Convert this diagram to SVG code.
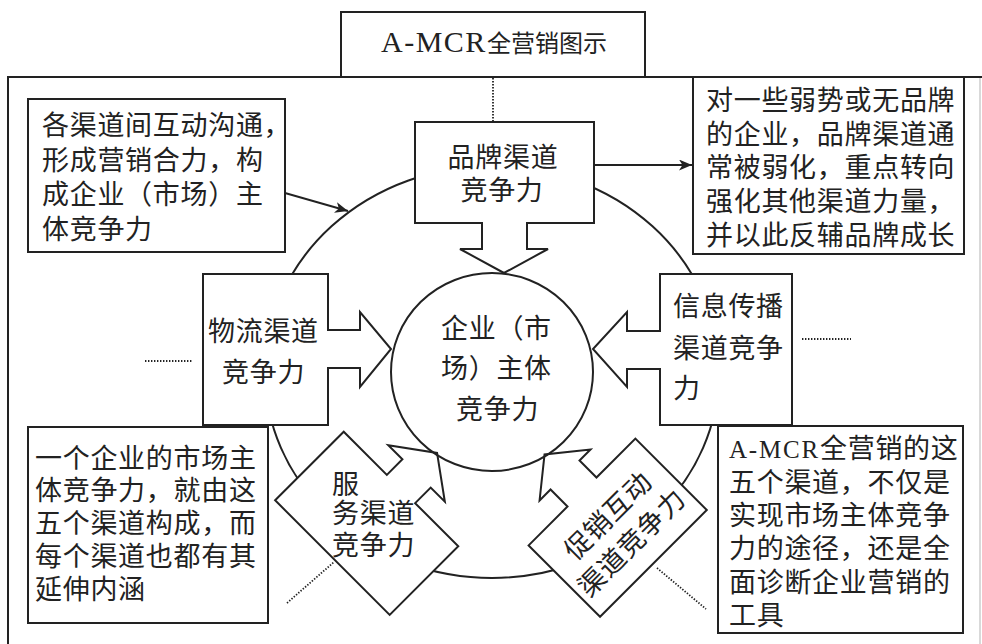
<svg xmlns="http://www.w3.org/2000/svg" width="982" height="644" viewBox="0 0 982 644">
<defs>
<style>
.ln{fill:none;stroke:#222;stroke-width:2}
.box{fill:#fff;stroke:#222;stroke-width:2;stroke-linejoin:miter}
.dot{fill:none;stroke:#222;stroke-width:1.8;stroke-dasharray:1.4 1.6}
.t{font-family:"Noto Sans CJK SC",sans-serif;font-size:27px;fill:#222;letter-spacing:0.7px}
.lat{font-family:"Liberation Serif","Noto Sans CJK SC",serif}
</style>
<marker id="ah" markerUnits="userSpaceOnUse" markerWidth="14" markerHeight="12" refX="13" refY="5.5" orient="auto">
<path d="M0,0 L13,5.5 L0,11 L3.5,5.5 z" fill="#222"/>
</marker>
</defs>
<rect width="982" height="644" fill="#fff"/>

<g id="frame">
<path class="ln" d="M8,644 V77 H982"/>
<line x1="980" y1="78" x2="980" y2="644" stroke="#ccc" stroke-width="1.5"/>
</g>

<g id="title">
<rect class="box" x="341" y="12" width="304" height="65"/>
<text class="t" y="52"><tspan class="lat" x="381" font-size="30" letter-spacing="1.5">A-MCR</tspan><tspan x="487" font-size="24" letter-spacing="0">全营销图示</tspan></text>
</g>

<g id="ring">
<ellipse class="ln" cx="492" cy="372" rx="227" ry="206"/>
</g>

<g id="note-tl">
<rect class="box" x="28" y="99" width="257" height="153"/>
<text class="t"><tspan x="42" y="135">各渠道间互动沟通，</tspan><tspan x="42" y="169.5">形成营销合力，构</tspan><tspan x="42" y="204">成企业（市场）主</tspan><tspan x="42" y="238.5">体竞争力</tspan></text>
</g>

<g id="note-tr">
<rect class="box" x="693" y="77" width="271" height="177"/>
<text class="t"><tspan x="706" y="110">对一些弱势或无品牌</tspan><tspan x="706" y="143.5">的企业，品牌渠道通</tspan><tspan x="706" y="177">常被弱化，重点转向</tspan><tspan x="706" y="211">强化其他渠道力量，</tspan><tspan x="706" y="245">并以此反辅品牌成长</tspan></text>
</g>

<g id="note-bl">
<rect class="box" x="28" y="427" width="240" height="196"/>
<text class="t"><tspan x="35" y="467.5">一个企业的市场主</tspan><tspan x="35" y="500">体竞争力，就由这</tspan><tspan x="35" y="532.5">五个渠道构成，而</tspan><tspan x="35" y="566">每个渠道也都有其</tspan><tspan x="35" y="599">延伸内涵</tspan></text>
</g>

<g id="note-br">
<rect class="box" x="718" y="426" width="245" height="207"/>
<text class="t"><tspan class="lat" x="729" y="457.5" font-size="25" letter-spacing="1.8">A-MCR</tspan><tspan x="820" y="457.5">全营销的这</tspan><tspan x="729" y="491.5">五个渠道，不仅是</tspan><tspan x="729" y="525">实现市场主体竞争</tspan><tspan x="729" y="558">力的途径，还是全</tspan><tspan x="729" y="591.5">面诊断企业营销的</tspan><tspan x="729" y="625">工具</tspan></text>
</g>

<g id="brand">
<polygon class="box" points="415,122 594,122 594,223 527,223 527,249 548,249 504,273 460,249 482,249 482,223 415,223"/>
<text class="t" text-anchor="middle"><tspan x="503" y="166.5">品牌渠道</tspan><tspan x="502" y="200">竞争力</tspan></text>
</g>

<g id="logistics">
<polygon class="box" points="203,274 328,274 328,330 360,330 360,312 391,349 360,387 360,368 328,368 328,425 203,425"/>
<text class="t"><tspan x="208" y="341">物流渠道</tspan><tspan x="222" y="382">竞争力</tspan></text>
</g>

<g id="info">
<polygon class="box" points="792,274 660,274 660,331 627,331 627,312 593,349 627,387 627,369 660,369 660,425 792,425"/>
<text class="t"><tspan x="673" y="316">信息传播</tspan><tspan x="673" y="358">渠道竞争</tspan><tspan x="673" y="398">力</tspan></text>
</g>

<g id="service">
<polygon class="box" transform="translate(401,489) rotate(-45)" points="-97,-81 0,-81 0,-20 22,-20 22,-40 51,0 22,40 22,20 0,20 0,81 -97,81"/>
<text class="t"><tspan x="332" y="494">服</tspan><tspan x="332" y="523">务渠道</tspan><tspan x="332" y="555">竞争力</tspan></text>
</g>

<g id="promo">
<polygon class="box" transform="translate(582,492) rotate(225)" points="-101,-75.5 0,-75.5 0,-20.5 24,-20.5 24,-36 53,0 24,36 24,20.5 0,20.5 0,75.5 -101,75.5"/>
<text class="t" text-anchor="middle" transform="translate(607.5,515.5) rotate(-45)" x="0" y="10" letter-spacing="0">促销互动</text>
<text class="t" text-anchor="middle" transform="translate(631.5,542.4) rotate(-45)" x="0" y="10" letter-spacing="2">渠道竞争力</text>
</g>

<g id="core">
<ellipse class="ln" cx="492" cy="372" rx="101" ry="99"/>
<text class="t"><tspan x="441" y="338">企业（市</tspan><tspan x="441" y="378">场）主体</tspan><tspan x="456" y="419">竞争力</tspan></text>
</g>

<g id="connectors">
<line class="ln" x1="285" y1="193" x2="348" y2="211" marker-end="url(#ah)"/>
<line class="ln" x1="594" y1="165" x2="692" y2="165" marker-end="url(#ah)"/>
<line class="dot" x1="493" y1="78" x2="493" y2="122"/>
<line class="dot" x1="145" y1="361" x2="193" y2="361"/>
<line class="dot" x1="802" y1="339" x2="851" y2="339"/>
<line class="dot" x1="287" y1="603" x2="334" y2="562"/>
<line class="dot" x1="657" y1="568" x2="706" y2="609"/>
</g>
</svg>
